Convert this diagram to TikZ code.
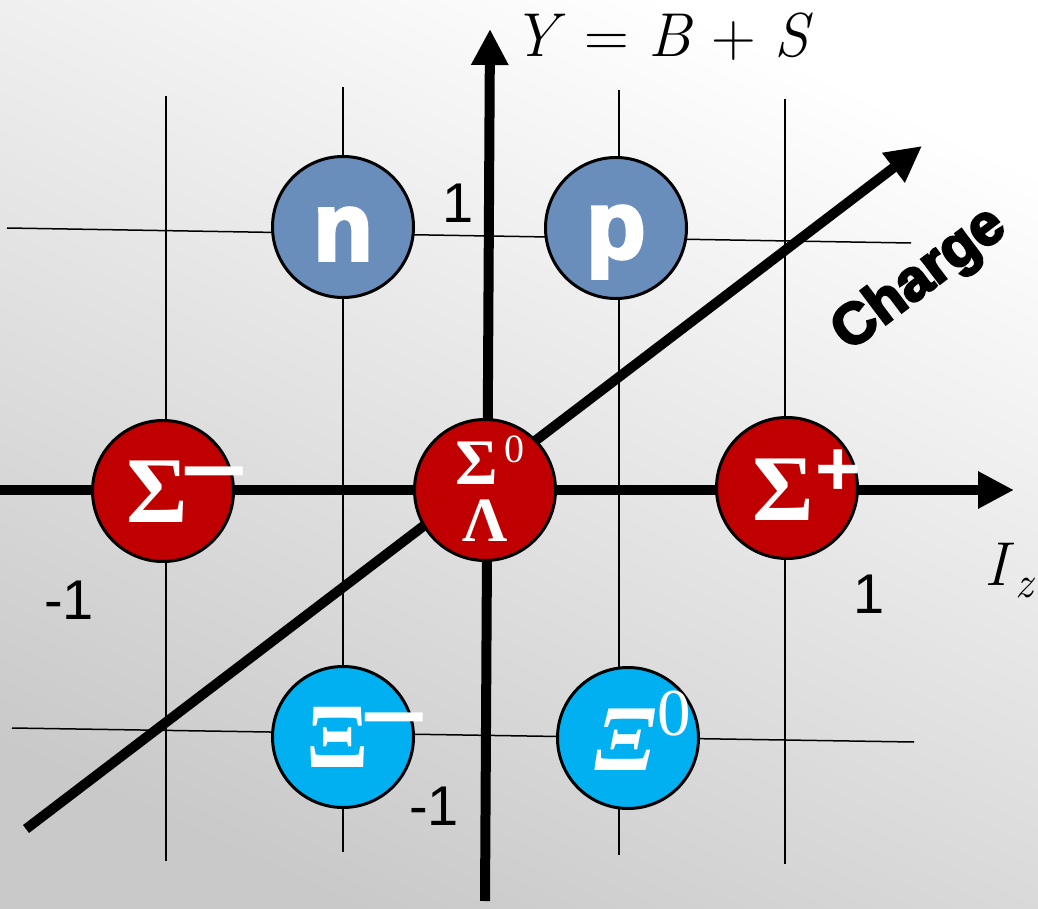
\documentclass[tikz,border=0pt]{standalone}
\usepackage{fontspec}
\usepackage{graphicx}
\usetikzlibrary{arrows.meta}
\newfontfamily\sansf{Liberation Sans}
\newfontfamily\heavyf{Liberation Sans}[BoldFeatures={FakeBold=4}]
\newfontfamily\grk{Liberation Serif}
\definecolor{nucblue}{HTML}{6A8EBB}
\definecolor{sigred}{HTML}{C00000}
\definecolor{xicyan}{HTML}{00B0F0}
\tikzset{
  gridline/.style={line width=1.5pt, draw=black},
  thickaxis/.style={line width=10pt, -{Triangle[length=36pt,width=35pt]}},
  particle/.style={circle, draw=black, line width=3pt, minimum size=141pt, inner sep=0pt},
  num/.style={font=\sansf\fontsize{56}{60}\selectfont, inner sep=0pt},
  glyph/.style={text=white, inner sep=0pt},
  signf/.style={text=white, inner sep=0pt, anchor=base, font=\sansf\bfseries\fontsize{68}{70}\selectfont},
}
\begin{document}
\begin{tikzpicture}[x=1pt,y=-1pt]
\useasboundingbox (0,0) rectangle (1038,909);
\shade[top color=white, bottom color=gray!42, shading angle=-25] (0,0) rectangle (1038,909);

% grid
\draw[gridline] (166,96) -- (166,861);
\draw[gridline] (343,87) -- (343,852);
\draw[gridline] (619,90) -- (619,855);
\draw[gridline] (785,99) -- (785,864);
\draw[gridline] (7,228) -- (911,243);
\draw[gridline] (12,728) -- (914,742);

% axes
\draw[thickaxis] (485,901) -- (490,29);
\draw[thickaxis] (0,490) -- (1014,490);
\draw[thickaxis] (26,829) -- (922,146);

% particles
\node[particle, fill=nucblue] (n) at (343,227) {};
\node[particle, fill=nucblue] (p) at (616,228) {};
\node[particle, fill=sigred] (sm) at (163,491) {};
\node[particle, fill=sigred] (s0) at (485,490) {};
\node[particle, fill=sigred] (sp) at (787,488) {};
\node[particle, fill=xicyan] (xm) at (343,737) {};
\node[particle, fill=xicyan] (x0) at (628,738) {};

% particle labels
\node[glyph, font=\heavyf\bfseries\fontsize{96}{100}\selectfont] (nt) at (343,234) {n};
\node[glyph, font=\heavyf\bfseries\fontsize{96}{100}\selectfont] (pt) at (616,242) {p};

\node[glyph, font=\grk\bfseries\fontsize{94}{96}\selectfont] (smS) at (157,492) {Σ};
\node[signf] (smm) at (214,498) {\scalebox{1.7}[1.2]{−}};
\node[glyph, font=\grk\bfseries\fontsize{94}{96}\selectfont] (spS) at (783,490) {Σ};
\node[signf, font=\sansf\bfseries\fontsize{78}{80}\selectfont] (spp) at (838,495) {+};

\node[glyph, font=\grk\bfseries\fontsize{65}{66}\selectfont] (s0S) at (477,463) {Σ};
\node[glyph, font=\grk\fontsize{40}{42}\selectfont] (s0z) at (514,449) {0};
\node[glyph, font=\grk\bfseries\fontsize{63}{64}\selectfont] (s0L) at (485,521) {Λ};

\node[glyph, font=\grk\bfseries\fontsize{92}{94}\selectfont] (xmX) at (338,737) {Ξ};
\node[signf] (xmm) at (394,744) {\scalebox{1.7}[1.2]{−}};
\node[glyph, font=\grk\bfseries\itshape\fontsize{94}{96}\selectfont] (x0X) at (625,740) {Ξ};
\node[glyph, font=\grk\fontsize{67}{68}\selectfont] (x0z) at (674,714) {0};

% axis labels
\node[inner sep=0pt, font=\fontsize{62}{62}\selectfont] (ylab) at (663,37) {\textit{Y} = \textit{B} + \textit{S}};
\node[inner sep=0pt, font=\fontsize{62}{62}\selectfont] (iz) at (1010,571) {\textit{I}\raisebox{-12pt}{\fontsize{44}{44}\selectfont\textit{z}}};
\node[inner sep=0pt, rotate=37, font=\heavyf\bfseries\fontsize{58}{60}\selectfont] (charge) at (920,280) {Charge};

% tick numbers
\node[num] (yone) at (458,203) {1};
\node[num] (ymone) at (434,806) {-1};
\node[num] (xmone) at (69,600) {-1};
\node[num] (xone) at (869,594) {1};
\end{tikzpicture}
\end{document}
